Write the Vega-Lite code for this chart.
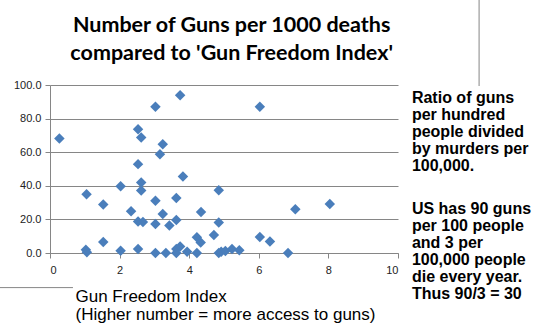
{
  "$schema": "https://vega.github.io/schema/vega-lite/v6.json",
  "width": 348,
  "height": 168,
  "autosize": {"type": "none"},
  "padding": {"left": 50, "top": 85, "right": 142, "bottom": 78},
  "background": "white",
  "config": {"view": {"stroke": null}, "font": "Liberation Sans"},
  "resolve": {"axis": {"x": "independent", "y": "independent"}},
  "layer": [
    {
      "data": {"values": [
        {"index": 0.27, "ratio": 68.1},
        {"index": 1.05, "ratio": 35.0},
        {"index": 1.03, "ratio": 2.0},
        {"index": 1.06, "ratio": 0.5},
        {"index": 1.53, "ratio": 28.9},
        {"index": 1.53, "ratio": 6.5},
        {"index": 2.03, "ratio": 39.8},
        {"index": 2.03, "ratio": 1.4},
        {"index": 2.33, "ratio": 24.9},
        {"index": 2.53, "ratio": 73.6},
        {"index": 2.62, "ratio": 68.7},
        {"index": 2.53, "ratio": 52.9},
        {"index": 2.62, "ratio": 42.0},
        {"index": 2.62, "ratio": 37.2},
        {"index": 2.53, "ratio": 18.8},
        {"index": 2.67, "ratio": 18.5},
        {"index": 2.53, "ratio": 2.4},
        {"index": 3.03, "ratio": 87.1},
        {"index": 3.03, "ratio": 31.1},
        {"index": 3.03, "ratio": 17.2},
        {"index": 3.03, "ratio": 0.0},
        {"index": 3.16, "ratio": 58.8},
        {"index": 3.24, "ratio": 64.8},
        {"index": 3.24, "ratio": 23.2},
        {"index": 3.33, "ratio": 0.0},
        {"index": 3.43, "ratio": 16.4},
        {"index": 3.63, "ratio": 32.7},
        {"index": 3.63, "ratio": 19.6},
        {"index": 3.63, "ratio": 2.4},
        {"index": 3.63, "ratio": 0.0},
        {"index": 3.74, "ratio": 93.9},
        {"index": 3.74, "ratio": 3.9},
        {"index": 3.82, "ratio": 45.5},
        {"index": 3.94, "ratio": 0.8},
        {"index": 4.22, "ratio": 9.4},
        {"index": 4.33, "ratio": 6.3},
        {"index": 4.22, "ratio": 0.0},
        {"index": 4.34, "ratio": 24.4},
        {"index": 4.71, "ratio": 10.7},
        {"index": 4.85, "ratio": 37.4},
        {"index": 4.85, "ratio": 18.2},
        {"index": 4.85, "ratio": 0.0},
        {"index": 4.92, "ratio": 0.8},
        {"index": 5.04, "ratio": 1.2},
        {"index": 5.23, "ratio": 2.4},
        {"index": 5.44, "ratio": 1.6},
        {"index": 6.03, "ratio": 87.1},
        {"index": 6.03, "ratio": 9.5},
        {"index": 6.32, "ratio": 6.9},
        {"index": 6.84, "ratio": 0.0},
        {"index": 7.05, "ratio": 26.1},
        {"index": 8.04, "ratio": 29.1}
      ]},
      "mark": {"type": "point", "shape": "diamond", "filled": true, "size": 110, "color": "#4a7ebb", "opacity": 1},
      "encoding": {
        "x": {
          "field": "index", "type": "quantitative",
          "scale": {"domain": [0, 10], "nice": false},
          "axis": {
            "values": [0, 2, 4, 6, 8, 10], "grid": false,
            "domain": true, "domainColor": "#868686",
            "ticks": true, "tickSize": 5, "tickColor": "#868686",
            "labelFontSize": 11, "labelColor": "#222", "labelPadding": 6,
            "title": ["Gun Freedom Index", "(Higher number = more access to guns)"],
            "titleFont": "Liberation Sans", "titleFontSize": 17, "titleFontWeight": "normal",
            "titleColor": "#000", "titleAnchor": "start", "titleAlign": "left",
            "titleX": 25, "titleY": 48, "titleBaseline": "alphabetic", "titleLineHeight": 18
          }
        },
        "y": {
          "field": "ratio", "type": "quantitative",
          "scale": {"domain": [0, 100], "nice": false},
          "axis": {
            "values": [0, 20, 40, 60, 80, 100], "format": ".1f", "labelOverlap": false,
            "grid": true, "gridColor": "#868686",
            "domain": true, "domainColor": "#868686",
            "ticks": true, "tickSize": 5, "tickColor": "#868686",
            "labelFontSize": 11, "labelColor": "#222", "labelPadding": 4,
            "title": null
          }
        }
      }
    },
    {
      "data": {"values": [{"note": "title"}]},
      "mark": {
        "type": "text", "align": "center", "baseline": "alphabetic",
        "font": "Lato", "fontSize": 21.5, "fontWeight": "bold", "lineHeight": 28, "color": "#000",
        "text": ["Number of Guns per 1000 deaths", "compared to 'Gun Freedom Index'"]
      },
      "encoding": {"x": {"datum": 5.22, "axis": null}, "y": {"datum": 131.5, "axis": null}}
    },
    {
      "data": {"values": [
        {"para": "Ratio of guns\nper hundred\npeople divided\nby murders per\n100,000.", "pos": 89.3},
        {"para": "US has 90 guns\nper 100 people\nand 3 per\n100,000 people\ndie every year.\nThus 90/3 = 30", "pos": 23.35}
      ]},
      "mark": {
        "type": "text", "align": "left", "baseline": "alphabetic", "lineBreak": "\n",
        "font": "Liberation Sans", "fontSize": 16, "fontWeight": "bold", "lineHeight": 17.1, "color": "#000"
      },
      "encoding": {
        "text": {"field": "para", "type": "nominal"},
        "x": {"datum": 10.4, "axis": null},
        "y": {"field": "pos", "type": "quantitative", "axis": null}
      }
    },
    {
      "data": {"values": [{"note": "border"}]},
      "mark": {"type": "rule", "color": "#868686", "strokeWidth": 1},
      "encoding": {"x": {"datum": 12.33, "axis": null}, "y": {"datum": 99.4, "axis": null}, "y2": {"datum": 152}}
    },
    {
      "data": {"values": [{"note": "border"}]},
      "mark": {"type": "rule", "color": "#868686", "strokeWidth": 1},
      "encoding": {"x": {"datum": -1.5, "axis": null}, "x2": {"datum": 0.66}, "y": {"datum": -20.6, "axis": null}}
    }
  ]
}
